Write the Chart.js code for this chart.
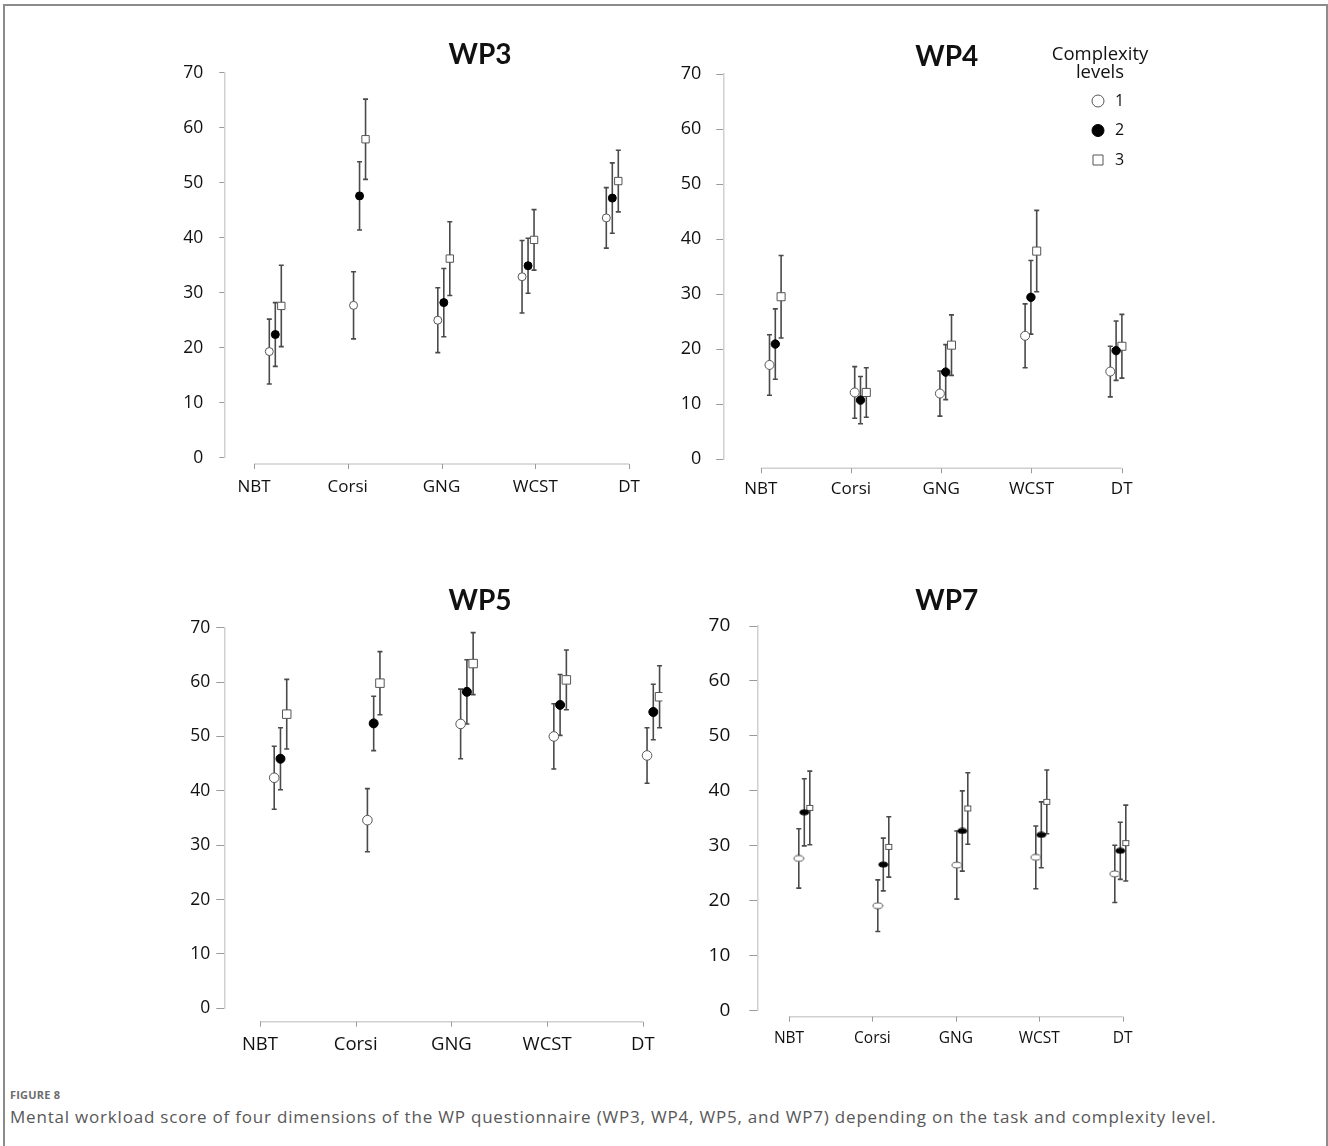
<!DOCTYPE html>
<html>
<head>
<meta charset="utf-8">
<script src="https://cdn.jsdelivr.net/npm/chart.js@4.4.1/dist/chart.umd.min.js"></script>
<style>
  html, body { margin: 0; padding: 0; background: #fff; }
  #page { position: relative; width: 1328px; height: 1146px; overflow: hidden; background: #fff; }
  #frame { position: absolute; left: 3px; top: 4px; width: 1321px; height: 1200px; border: 2px solid #8c8c8c; }
  canvas { position: absolute; }
  #figlabel { position: absolute; left: 10px; top: 1087px; font: bold 11px "Open Sans", sans-serif; color: #6d6d6d; letter-spacing: 0.2px; }
  #caption { position: absolute; left: 10px; top: 1105px; font: 17px "Open Sans", sans-serif; letter-spacing: 0.8px; color: #585858; white-space: nowrap; }
</style>
</head>
<body>
<div id="page">
  <div id="frame"></div>
  <canvas id="wp3"></canvas>
  <canvas id="wp4"></canvas>
  <canvas id="wp5"></canvas>
  <canvas id="wp7"></canvas>
  <div id="figlabel">FIGURE 8</div>
  <div id="caption">Mental workload score of four dimensions of the WP questionnaire (WP3, WP4, WP5, and WP7) depending on the task and complexity level.</div>
</div>
<script>
// tasks on the x axis, complexity levels in the legend
const tasks = ['NBT', 'Corsi', 'GNG', 'WCST', 'DT'];
const levelNames = ['1', '2', '3'];
const yTicks = [0, 10, 20, 30, 40, 50, 60, 70];

// WP3: mean score per task, and half-length of the error bar
const wp3Level1 = [19.3, 27.7, 25.0, 32.9, 43.6];
const wp3Level2 = [22.4, 47.6, 28.2, 34.9, 47.2];
const wp3Level3 = [27.6, 57.9, 36.2, 39.6, 50.3];
const wp3Err1 = [5.9, 6.1, 5.9, 6.6, 5.5];
const wp3Err2 = [5.8, 6.2, 6.2, 5.0, 6.4];
const wp3Err3 = [7.4, 7.3, 6.7, 5.5, 5.6];

// WP4
const wp4Level1 = [17.1, 12.1, 11.9, 22.4, 15.9];
const wp4Level2 = [20.9, 10.7, 15.8, 29.4, 19.7];
const wp4Level3 = [29.5, 12.1, 20.7, 37.8, 20.5];
const wp4Err1 = [5.5, 4.7, 4.1, 5.8, 4.6];
const wp4Err2 = [6.4, 4.3, 5.0, 6.7, 5.4];
const wp4Err3 = [7.5, 4.5, 5.5, 7.4, 5.8];

// WP5
const wp5Level1 = [42.4, 34.6, 52.3, 50.0, 46.5];
const wp5Level2 = [45.9, 52.4, 58.2, 55.8, 54.5];
const wp5Level3 = [54.1, 59.8, 63.4, 60.4, 57.3];
const wp5Err1 = [5.8, 5.8, 6.4, 6.0, 5.1];
const wp5Err2 = [5.7, 5.0, 5.9, 5.6, 5.1];
const wp5Err3 = [6.4, 5.8, 5.7, 5.5, 5.7];

// WP7
const wp7Level1 = [27.7, 19.1, 26.5, 27.9, 24.9];
const wp7Level2 = [36.1, 26.6, 32.7, 32.0, 29.1];
const wp7Level3 = [36.9, 29.8, 36.8, 38.0, 30.5];
const wp7Err1 = [5.4, 4.7, 6.2, 5.7, 5.2];
const wp7Err2 = [6.1, 4.8, 7.3, 6.0, 5.2];
const wp7Err3 = [6.7, 5.5, 6.5, 5.8, 6.9];

const FONT = '"Open Sans"';
const TITLE_FONT = 'Lato';
const ERR_COLOR = '#4a4a4a';

// small flattened markers used in the WP7 panel
function ellipseMarker(w, h, filled) {
    const c = document.createElement('canvas');
    c.width = w + 2; c.height = h + 2;
    const g = c.getContext('2d');
    g.beginPath();
    g.ellipse(c.width / 2, c.height / 2, w / 2, h / 2, 0, 0, Math.PI * 2);
    g.fillStyle = filled ? '#000' : '#fff';
    g.fill();
    g.lineWidth = 1;
    g.strokeStyle = filled ? '#000' : '#555';
    g.stroke();
    return c;
}
function boxMarker(w, h) {
    const c = document.createElement('canvas');
    c.width = w + 2; c.height = h + 2;
    const g = c.getContext('2d');
    g.fillStyle = '#fff';
    g.fillRect(1, 1, w, h);
    g.lineWidth = 1;
    g.strokeStyle = '#555';
    g.strokeRect(1.5, 1.5, w - 1, h - 1);
    return c;
}

const panels = [
    { id: 'wp3', title: 'WP3', means: [wp3Level1, wp3Level2, wp3Level3], errs: [wp3Err1, wp3Err2, wp3Err3],
      box: [150, 20, 520, 500], area: [224.3, 72.7, 645, 457.7], tickPx: [254, 629], group: [275.3, 84.25], dodge: 6,
      gap: 6.3, labelPad: 19, titleAt: [480, 55], yFont: 17.5, xFont: 17, tickLen: 5, yPad: 16,
      sizes: [4, 4, 5.2] },
    { id: 'wp4', title: 'WP4', means: [wp4Level1, wp4Level2, wp4Level3], errs: [wp4Err1, wp4Err2, wp4Err3],
      box: [670, 20, 500, 500], area: [723.3, 74, 1140, 459], tickPx: [760.7, 1121.7], group: [775.3, 85.2], dodge: 5.8,
      gap: 9.3, labelPad: 20, titleAt: [946.7, 57], yFont: 18, xFont: 17, tickLen: 7, yPad: 15,
      sizes: [4.5, 4.2, 5.7], legend: true },
    { id: 'wp5', title: 'WP5', means: [wp5Level1, wp5Level2, wp5Level3], errs: [wp5Err1, wp5Err2, wp5Err3],
      box: [150, 570, 530, 500], area: [224.3, 627.7, 672, 1008.3], tickPx: [260.7, 652], group: [281.7, 95.25], dodge: 6.4,
      gap: 13.4, labelPad: 25, titleAt: [480, 600.7], yFont: 17.5, xFont: 18.5, tickLen: 8, yPad: 6,
      sizes: [4.8, 4.5, 6] },
    { id: 'wp7', title: 'WP7', means: [wp7Level1, wp7Level2, wp7Level3], errs: [wp7Err1, wp7Err2, wp7Err3],
      box: [680, 570, 490, 500], area: [757.3, 626, 1140, 1010.7], tickPx: [789, 1122.7], group: [804.3, 79], dodge: 5.5,
      gap: 6, labelPad: 19, titleAt: [946.7, 600.7], yFont: 19, xFont: 15.5, tickLen: 8, yPad: 19,
      images: [ellipseMarker(10, 6, false), ellipseMarker(9, 5, true), boxMarker(7, 6)] }
];

// vertical error bars with small caps, drawn under the markers
const errorBars = {
    id: 'errorBars',
    beforeDatasetsDraw(chart) {
        const ctx = chart.ctx, y = chart.scales.y;
        ctx.save();
        ctx.strokeStyle = ERR_COLOR;
        ctx.lineWidth = 1.6;
        chart.data.datasets.forEach((ds, di) => {
            chart.getDatasetMeta(di).data.forEach((pt, i) => {
                const v = ds.data[i].y, e = ds.errors[i];
                const top = y.getPixelForValue(v + e), bot = y.getPixelForValue(v - e);
                ctx.beginPath();
                ctx.moveTo(pt.x, top); ctx.lineTo(pt.x, bot);
                ctx.moveTo(pt.x - 2.5, top); ctx.lineTo(pt.x + 2.5, top);
                ctx.moveTo(pt.x - 2.5, bot); ctx.lineTo(pt.x + 2.5, bot);
                ctx.stroke();
            });
        });
        ctx.restore();
    }
};

// detached x axis line with tick marks, plus the panel title and the legend
const panelDecor = {
    id: 'panelDecor',
    afterDraw(chart, args, opts) {
        const ctx = chart.ctx, x = chart.scales.x;
        const yy = chart.chartArea.bottom + opts.gap;
        ctx.save();
        ctx.strokeStyle = '#d0d0d0';
        ctx.lineWidth = 1.5;
        ctx.beginPath();
        ctx.moveTo(x.getPixelForValue(0), yy);
        ctx.lineTo(x.getPixelForValue(tasks.length - 1), yy);
        ctx.stroke();
        ctx.strokeStyle = '#9a9a9a';
        ctx.lineWidth = 1;
        tasks.forEach((t, i) => {
            const px = Math.round(x.getPixelForValue(i)) + 0.5;
            ctx.beginPath(); ctx.moveTo(px, yy); ctx.lineTo(px, yy + 5); ctx.stroke();
        });

        ctx.fillStyle = '#111';
        ctx.font = 'bold 28px ' + TITLE_FONT;
        ctx.textAlign = 'center';
        ctx.textBaseline = 'middle';
        ctx.fillText(opts.title, opts.titleX, opts.titleY);

        if (opts.legend) {
            const lx = opts.legendX, ly = opts.legendY;
            ctx.font = '18.5px ' + FONT;
            ctx.fillText('Complexity', lx + 2, ly);
            ctx.fillText('levels', lx + 2, ly + 18);
            ctx.font = '16px ' + FONT;
            ctx.textAlign = 'left';
            levelNames.forEach((name, i) => {
                const cy = ly + 46 + i * 29.5;
                ctx.beginPath();
                if (i === 2) {
                    ctx.rect(lx - 5, cy - 5, 10, 10);
                } else {
                    ctx.arc(lx, cy, 6, 0, Math.PI * 2);
                }
                ctx.fillStyle = i === 1 ? '#000' : '#fff';
                ctx.fill();
                ctx.strokeStyle = i === 1 ? '#000' : '#555';
                ctx.lineWidth = 1;
                ctx.stroke();
                ctx.fillStyle = '#111';
                ctx.fillText(name, lx + 17, cy);
            });
        }
        ctx.restore();
    }
};

panels.forEach(p => {
    const [bx, by, bw, bh] = p.box;
    const [L, T, R, B] = p.area;
    const canvas = document.getElementById(p.id);
    canvas.width = bw; canvas.height = bh;
    canvas.style.left = bx + 'px'; canvas.style.top = by + 'px';
    canvas.style.width = bw + 'px'; canvas.style.height = bh + 'px';

    // label axis: task i sits at tickPx[0] + i * step
    const step = (p.tickPx[1] - p.tickPx[0]) / (tasks.length - 1);
    const xMin = -(p.tickPx[0] - L) / step;
    const xMax = (tasks.length - 1) + (R - p.tickPx[1]) / step;
    // point axis: task group i centred at group[0] + i * group[1]
    const xpMin = -(p.group[0] - L) / p.group[1];
    const xpMax = (R - p.group[0]) / p.group[1];
    const dodge = p.dodge / p.group[1];

    const datasets = p.means.map((vals, li) => {
        const ds = {
            label: levelNames[li],
            xAxisID: 'xp',
            data: vals.map((v, i) => ({ x: i + (li - 1) * dodge, y: v })),
            errors: p.errs[li],
            showLine: false
        };
        if (p.images) {
            ds.pointStyle = p.images[li];
        } else {
            ds.pointStyle = li === 2 ? 'rect' : 'circle';
            ds.pointRadius = p.sizes[li];
            ds.pointBackgroundColor = li === 1 ? '#000' : '#fff';
            ds.pointBorderColor = li === 1 ? '#000' : '#555';
            ds.pointBorderWidth = 1;
        }
        return ds;
    });

    new Chart(canvas, {
        type: 'scatter',
        data: { datasets },
        options: {
            responsive: false,
            devicePixelRatio: 1,
            animation: false,
            events: [],
            layout: { padding: { left: 0, top: T - by, right: bx + bw - R, bottom: 0 } },
            plugins: {
                legend: { display: false },
                tooltip: { enabled: false },
                panelDecor: {
                    gap: p.gap, title: p.title,
                    titleX: p.titleAt[0] - bx, titleY: p.titleAt[1] - by,
                    legend: !!p.legend, legendX: 1098 - bx, legendY: 55 - by
                }
            },
            scales: {
                x: {
                    type: 'linear', position: 'bottom', min: xMin, max: xMax,
                    afterBuildTicks: s => { s.ticks = tasks.map((t, i) => ({ value: i })); },
                    afterFit: s => { s.height = by + bh - B; },
                    grid: { display: false, drawTicks: false },
                    border: { display: false },
                    ticks: {
                        callback: v => tasks[v], autoSkip: false, maxRotation: 0,
                        padding: p.labelPad, color: '#111', font: { family: FONT, size: p.xFont }
                    }
                },
                xp: { type: 'linear', display: false, min: xpMin, max: xpMax },
                y: {
                    min: yTicks[0], max: yTicks[yTicks.length - 1],
                    afterFit: s => { s.width = L - bx; },
                    grid: { drawOnChartArea: false, color: '#9a9a9a', tickLength: p.tickLen, lineWidth: 1 },
                    border: { color: '#d0d0d0', width: 1.5 },
                    ticks: { stepSize: yTicks[1] - yTicks[0], padding: p.yPad, color: '#111', font: { family: FONT, size: p.yFont } }
                }
            }
        },
        plugins: [errorBars, panelDecor]
    });
});
</script>
</body>
</html>
